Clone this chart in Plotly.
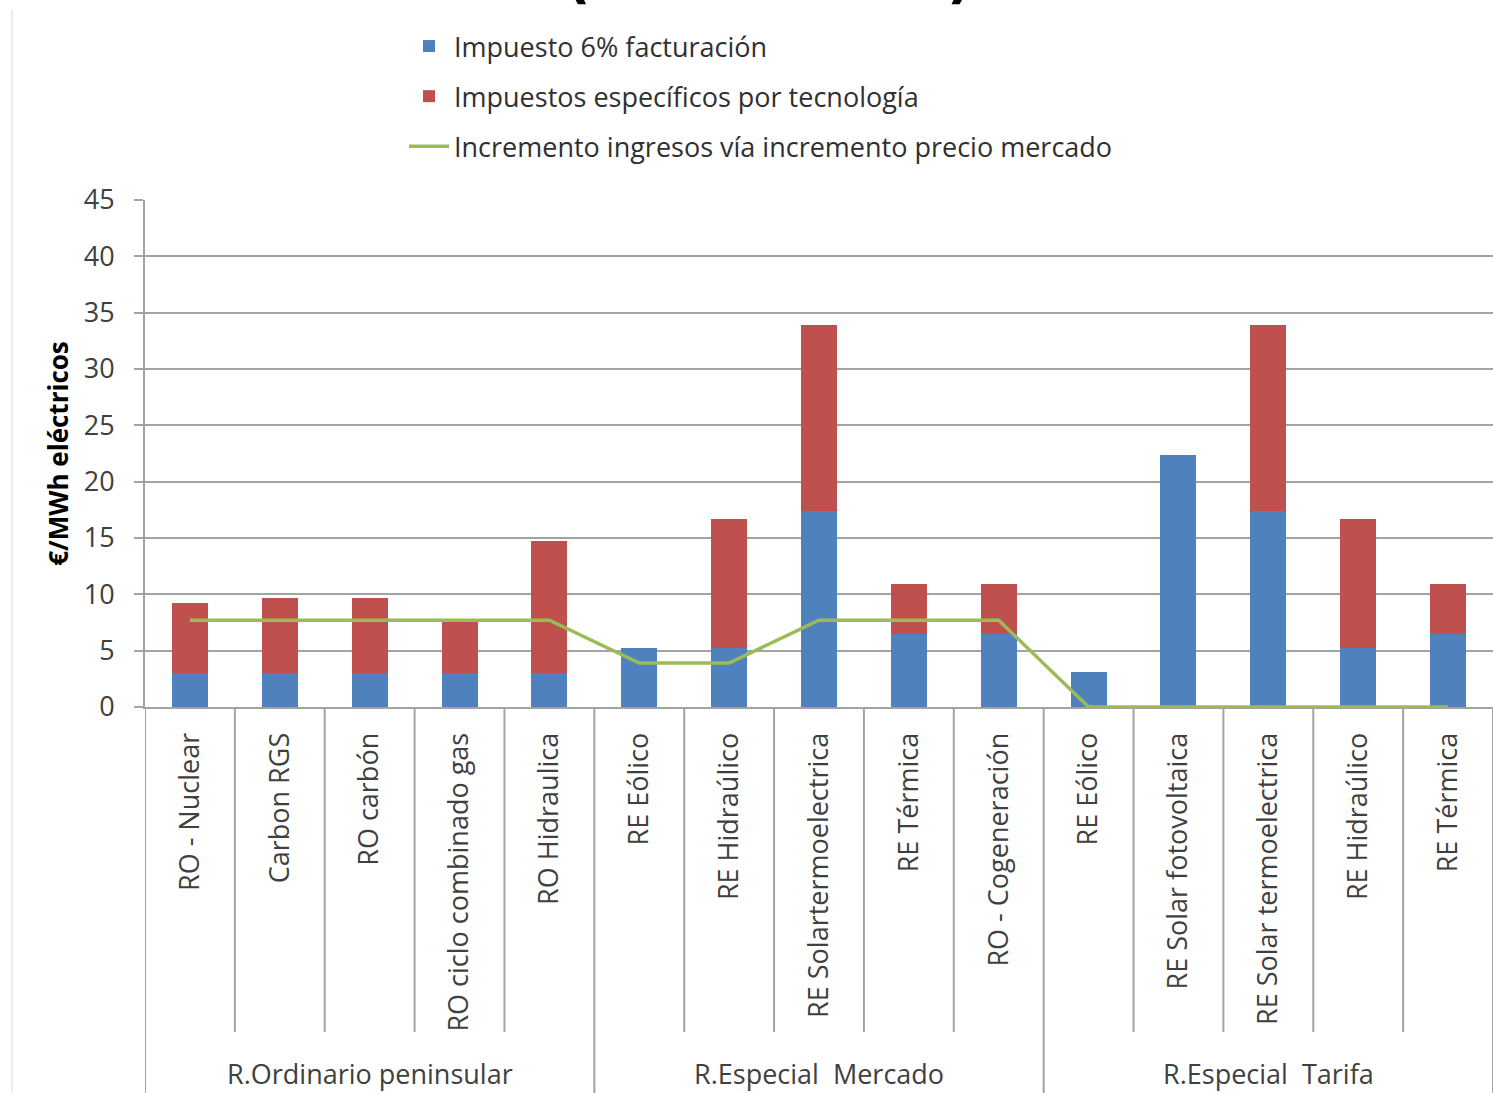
import plotly.graph_objects as go

# ---------------- data ----------------
groups = ["R.Ordinario peninsular", "R.Especial  Mercado", "R.Especial  Tarifa"]
group_sizes = [5, 5, 5]
categories = [
    "RO - Nuclear", "Carbon RGS", "RO carbón", "RO ciclo combinado gas", "RO Hidraulica",
    "RE Eólico", "RE Hidraúlico", "RE Solartermoelectrica", "RE Térmica", "RO - Cogeneración",
    "RE Eólico", "RE Solar fotovoltaica", "RE Solar termoelectrica", "RE Hidraúlico", "RE Térmica",
]
impuesto_6 = [3.0, 3.0, 3.0, 3.0, 3.0, 5.2, 5.2, 17.4, 6.5, 6.5, 3.1, 22.4, 17.4, 5.2, 6.5]
impuestos_especificos = [6.2, 6.7, 6.7, 4.7, 11.7, 0.0, 11.5, 16.5, 4.4, 4.4, 0.0, 0.0, 16.5, 11.5, 4.4]
incremento_ingresos = [7.7, 7.7, 7.7, 7.7, 7.7, 3.9, 3.9, 7.7, 7.7, 7.7, 0.0, 0.0, 0.0, 0.0, 0.0]
y_ticks = [0, 5, 10, 15, 20, 25, 30, 35, 40, 45]

# ---------------- styling ----------------
BLUE = "#4F81BD"
RED = "#C0504D"
GREEN = "#9BBB59"
GRID = "#A3A3A3"
TXT = "#404040"
FONT = "Open Sans"

W, H = 1493, 1093
ML, MR, MT, MB = 145, 0, 200, 386
PH = H - MT - MB


def py(pix):
    """pixel y (from top) -> paper y"""
    return (H - MB - pix) / PH


def px(pix):
    return (pix - ML) / (W - ML - MR)


xs = list(range(len(categories)))

fig = go.Figure()
fig.add_trace(go.Bar(x=xs, y=impuesto_6, name="Impuesto 6% facturación",
                     marker=dict(color=BLUE, line=dict(width=0)), legendgroup="a"))
fig.add_trace(go.Bar(x=xs, y=impuestos_especificos, name="Impuestos específicos por tecnología",
                     marker=dict(color=RED, line=dict(width=0)), legendgroup="b"))
fig.add_trace(go.Scatter(x=xs, y=incremento_ingresos, mode="lines",
                         name="Incremento ingresos vía incremento precio mercado",
                         line=dict(color=GREEN, width=3.5), legendgroup="c"))

shapes = []
# category dividers
start = 0
bounds = [-0.5]
for g in group_sizes:
    start += g
    bounds.append(start - 0.5)
inner = [i + 0.5 for i in range(len(categories) - 1) if (i + 0.5) not in bounds]
for b in inner:
    shapes.append(dict(type="line", xref="x", yref="paper", x0=b, x1=b, y0=0, y1=py(1032),
                       line=dict(color=GRID, width=2), layer="above"))
for b in bounds:
    shapes.append(dict(type="line", xref="x", yref="paper", x0=b, x1=b, y0=0, y1=py(1100),
                       line=dict(color=GRID, width=2), layer="above"))
# chart area border (left edge visible)
shapes.append(dict(type="line", xref="paper", yref="paper", x0=px(12), x1=px(12),
                   y0=py(1100), y1=py(10), line=dict(color="#E6E6E6", width=1.5), layer="below"))

annotations = []
start = 0
for g, n in zip(groups, group_sizes):
    annotations.append(dict(text=g, x=start + (n - 1) / 2, xref="x", y=py(1073), yref="paper",
                            showarrow=False, xanchor="center", yanchor="middle",
                            font=dict(family=FONT, size=27, color=TXT)))
    start += n
# title remnants, clipped by the top edge as in the reference
annotations.append(dict(text="<b>(</b>", x=px(578), xref="paper", y=py(12), yref="paper",
                        showarrow=False, xanchor="center", yanchor="bottom",
                        font=dict(family="DejaVu Sans", size=56, color="black")))
annotations.append(dict(text="<b>)</b>", x=px(960), xref="paper", y=py(12), yref="paper",
                        showarrow=False, xanchor="center", yanchor="bottom",
                        font=dict(family="DejaVu Sans", size=56, color="black")))

fig.update_layout(
    width=W, height=H,
    margin=dict(l=ML, r=MR, t=MT, b=MB, pad=0),
    paper_bgcolor="white", plot_bgcolor="white",
    barmode="stack", bargap=0.6,
    font=dict(family=FONT, size=24, color=TXT),
    showlegend=True,
    legend=dict(x=px(404), y=py(22), xanchor="left", yanchor="top",
                traceorder="grouped", tracegroupgap=12,
                font=dict(family=FONT, size=27, color="#303030"),
                bgcolor="rgba(0,0,0,0)", itemwidth=40),
    xaxis=dict(range=[-0.5, len(categories) - 0.5], tickmode="array", tickvals=xs,
               ticktext=categories, tickangle=-90, ticks="", showgrid=False,
               showline=True, linecolor=GRID, linewidth=2, zeroline=False,
               ticklabelstandoff=13,
               tickfont=dict(family=FONT, size=27, color=TXT)),
    yaxis=dict(range=[0, 45], tickmode="array", tickvals=y_ticks, showgrid=True,
               gridcolor=GRID, gridwidth=2, showline=True, linecolor=GRID, linewidth=2,
               ticks="outside", ticklen=9, tickwidth=2, tickcolor=GRID, zeroline=False,
               ticklabelstandoff=14,
               tickfont=dict(family=FONT, size=27, color=TXT),
               title=dict(text="<b>€/MWh eléctricos</b>", standoff=8,
                          font=dict(family=FONT, size=26, color="black"))),
    shapes=shapes, annotations=annotations,
)

fig.write_html("out.html", config={"displayModeBar": False},
               post_script="document.body.style.margin='0px';")
